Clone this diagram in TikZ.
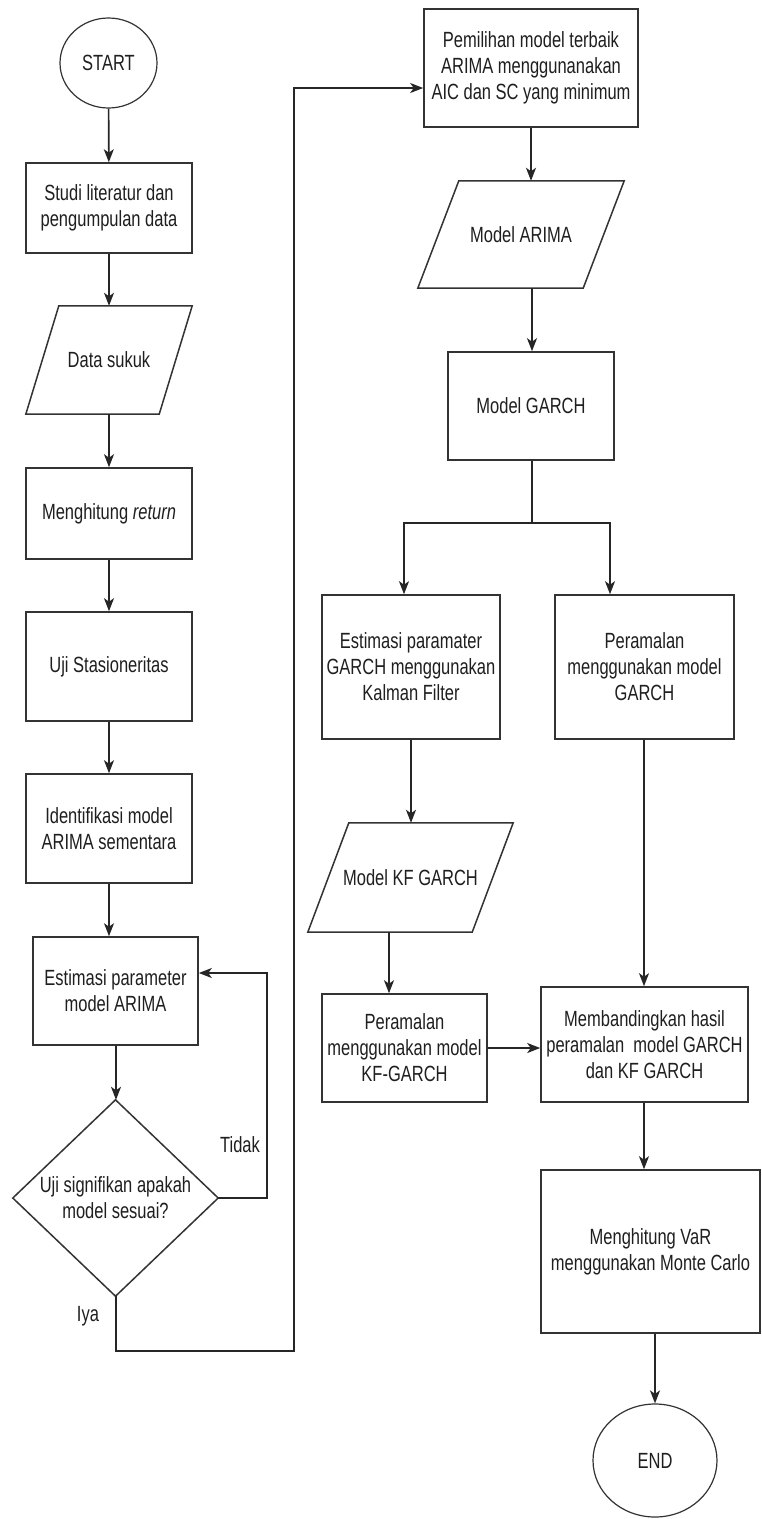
\documentclass[tikz,border=0pt]{standalone}
\usepackage{fontspec}
\setmainfont{Liberation Sans}[FakeStretch=0.75]
\usetikzlibrary{shapes.geometric,arrows.meta}
\begin{document}
\begin{tikzpicture}[x=1pt,y=-1pt,
  every node/.style={font=\fontsize{22}{26}\selectfont, text=black!88},
  boxnode/.style={draw=black!80, line width=1.6pt, rectangle, inner sep=0pt, align=center},
  plainnode/.style={draw=none, rectangle, inner sep=0pt, align=center},
  oval/.style={draw=black!80, line width=1.2pt, ellipse, inner sep=0pt},
  shapeline/.style={draw=black!80, line width=1.5pt, line join=miter},
  conn/.style={draw=black!85, line width=1.6pt},
  arr/.style={conn, -{Stealth[length=13pt,width=10pt,inset=3.5pt]}},
  lbl/.style={inner sep=0pt}
]
\useasboundingbox (0,0) rectangle (762,1519);
\fill[white] (0,0) rectangle (762,1519);

% ---------- left column ----------
\node[oval, minimum width=97pt, minimum height=90pt] (start) at (108.5,63) {START};
\node[boxnode, minimum width=166pt, minimum height=90pt] (studi) at (109,208) {Studi literatur dan\\pengumpulan data};
\node[plainnode, minimum width=166pt, minimum height=108pt] (data) at (109,360) {Data sukuk};
\draw[shapeline] (data.south west) -- ([xshift=-33pt]data.south east) -- (data.north east) -- ([xshift=33pt]data.north west) -- cycle;
\node[boxnode, minimum width=166pt, minimum height=91pt] (ret) at (109,513.5) {Menghitung \textit{return}};
\node[boxnode, minimum width=166pt, minimum height=109pt] (uji) at (109,666.5) {Uji Stasioneritas};
\node[boxnode, minimum width=166pt, minimum height=109pt] (ident) at (109,828.5) {Identifikasi model\\ARIMA sementara};
\node[boxnode, minimum width=165pt, minimum height=108pt] (estA) at (115.5,991) {Estimasi parameter\\model ARIMA};
\node[plainnode, minimum width=205pt, minimum height=196pt] (dia) at (115.5,1198) {Uji signifikan apakah\\model sesuai?};
\draw[shapeline] (dia.north) -- (dia.east) -- (dia.south) -- (dia.west) -- cycle;

\node[lbl] (tidak) at (240,1145) {Tidak};
\node[lbl] (iya) at (88,1316) {Iya};

% ---------- right column ----------
\node[boxnode, minimum width=214pt, minimum height=118pt] (pem) at (531,68) {Pemilihan model terbaik\\ARIMA menggunanakan\\AIC dan SC yang minimum};
\node[plainnode, minimum width=206pt, minimum height=107pt] (arima) at (521,234.5) {Model ARIMA};
\draw[shapeline] (arima.south west) -- ([xshift=-41pt]arima.south east) -- (arima.north east) -- ([xshift=41pt]arima.north west) -- cycle;
\node[boxnode, minimum width=166pt, minimum height=108pt] (garch) at (531,406) {Model GARCH};
\node[boxnode, minimum width=178pt, minimum height=144pt] (estG) at (411,667) {Estimasi paramater\\GARCH menggunakan\\Kalman Filter};
\node[boxnode, minimum width=179pt, minimum height=144pt] (pG) at (644.5,667) {Peramalan\\menggunakan model\\GARCH};
\node[plainnode, minimum width=205pt, minimum height=109pt] (kf) at (410.5,877.5) {Model KF GARCH};
\draw[shapeline] (kf.south west) -- ([xshift=-41pt]kf.south east) -- (kf.north east) -- ([xshift=41pt]kf.north west) -- cycle;
\node[boxnode, minimum width=165pt, minimum height=108pt] (pkf) at (404.5,1048) {Peramalan\\menggunakan model\\KF-GARCH};
\node[boxnode, minimum width=207pt, minimum height=115pt] (mb) at (644.5,1044.5) {Membandingkan hasil\\peramalan~ model GARCH\\dan KF GARCH};
\node[boxnode, minimum width=219pt, minimum height=163pt] (var) at (650.5,1251.5) {Menghitung VaR\\menggunakan Monte Carlo};
\node[oval, minimum width=124pt, minimum height=113pt] (end) at (655,1460.5) {END};

% ---------- helper coordinates ----------
\coordinate (tk) at (267,973);
\coordinate (iy) at (294,1351);
\coordinate (iytop) at (294,88);
\coordinate (br) at (532,523);
\coordinate (bl) at (404,523);
\coordinate (bR) at (610,523);
\coordinate (kfx) at (389,0);
\coordinate (ax) at (532,0);
\coordinate (vx) at (644,0);
\coordinate (ex) at (116,0);
\coordinate (px) at (644,0);

% ---------- connectors ----------
\draw[arr] (start) -- (studi);
\draw[arr] (studi) -- (data);
\draw[arr] (data) -- (ret);
\draw[arr] (ret) -- (uji);
\draw[arr] (uji) -- (ident);
\draw[arr] (ident.south) -- (ident.south |- estA.north);
\draw[arr] (estA.south -| ex) -- (dia.north -| ex);
\draw[arr] (dia.east) -| (tk) -- (estA.east |- tk);
\draw[arr] (dia.south -| ex) |- (iy) -- (iytop) -- (pem.west |- iytop);

\draw[arr] (pem.south) -- (pem.south |- arima.north);
\draw[arr] (arima.south -| ax) -- (garch.north -| ax);
\draw[conn] (garch.south -| ax) -- (br);
\draw[arr] (br) -- (bl) -- (bl |- estG.north);
\draw[arr] (br) -- (bR) -- (bR |- pG.north);
\draw[arr] (estG.south) -- (estG.south |- kf.north);
\draw[arr] (kf.south -| kfx) -- (pkf.north -| kfx);
\draw[arr] (pkf.east) -- (mb.west |- pkf.east);
\draw[arr] (pG.south -| px) -- (mb.north -| px);
\draw[arr] (mb.south -| vx) -- (var.north -| vx);
\draw[arr] (end.north |- var.south) -- (end.north);
\end{tikzpicture}
\end{document}
